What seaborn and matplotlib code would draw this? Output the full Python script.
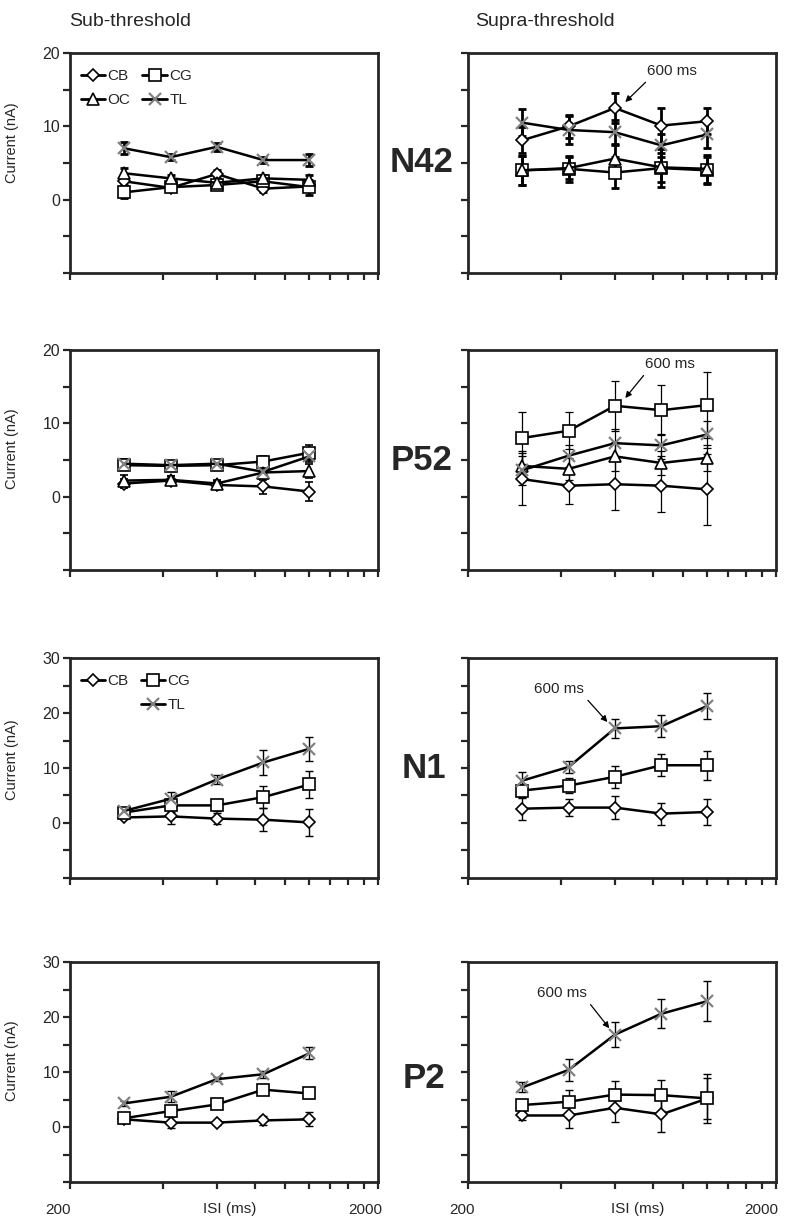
import matplotlib
matplotlib.use("Agg")
import matplotlib.pyplot as plt
import seaborn as sns
from matplotlib.lines import Line2D
from matplotlib.transforms import ScaledTranslation

# ISI values (ms)
isi = [300, 425, 600, 850, 1200]

# N42 sub / supra
n42_sub_cb = [2.5, 1.6, 3.5, 1.5, 1.8]
n42_sub_cb_err = [0.5, 0.4, 0.6, 0.5, 0.6]
n42_sub_cg = [1.0, 1.7, 2.0, 2.5, 1.7]
n42_sub_cg_err = [0.8, 0.4, 0.5, 0.5, 1.0]
n42_sub_oc = [3.6, 2.9, 2.3, 2.9, 2.7]
n42_sub_oc_err = [0.7, 0.4, 0.5, 0.5, 0.6]
n42_sub_tl = [7.0, 5.8, 7.2, 5.4, 5.4]
n42_sub_tl_err = [0.8, 0.4, 0.5, 0.4, 0.8]

n42_sup_cb = [8.1, 10.0, 12.5, 10.1, 10.7]
n42_sup_cb_err = [1.8, 1.6, 2.0, 2.4, 1.8]
n42_sup_cg = [4.0, 4.2, 3.7, 4.3, 4.0]
n42_sup_cg_err = [2.0, 1.8, 2.1, 2.6, 1.8]
n42_sup_oc = [4.0, 4.3, 5.6, 4.4, 4.2]
n42_sup_oc_err = [2.0, 1.5, 1.9, 2.0, 1.9]
n42_sup_tl = [10.5, 9.5, 9.2, 7.4, 8.9]
n42_sup_tl_err = [1.8, 1.9, 1.6, 1.6, 1.9]

# P52 sub / supra
p52_sub_cb = [1.8, 2.2, 1.6, 1.4, 0.7]
p52_sub_cb_err = [0.6, 0.6, 0.5, 1.0, 1.3]
p52_sub_cg = [4.3, 4.2, 4.3, 4.8, 6.0]
p52_sub_cg_err = [0.6, 0.5, 0.5, 0.8, 1.0]
p52_sub_oc = [2.2, 2.3, 1.8, 3.3, 3.5]
p52_sub_oc_err = [0.8, 0.5, 0.5, 1.0, 1.0]
p52_sub_tl = [4.5, 4.3, 4.5, 3.4, 5.5]
p52_sub_tl_err = [0.6, 0.5, 0.4, 0.6, 0.8]

p52_sup_cb = [2.4, 1.5, 1.7, 1.5, 1.0]
p52_sup_cb_err = [3.6, 2.5, 3.5, 3.6, 4.8]
p52_sup_cg = [8.0, 9.0, 12.4, 11.8, 12.5]
p52_sup_cg_err = [3.5, 2.5, 3.4, 3.4, 4.5]
p52_sup_oc = [4.2, 3.8, 5.5, 4.6, 5.3]
p52_sup_oc_err = [2.0, 1.5, 2.0, 1.7, 1.8]
p52_sup_tl = [3.6, 5.6, 7.3, 7.0, 8.5]
p52_sup_tl_err = [2.0, 1.5, 2.0, 1.5, 1.8]

# N1 sub / supra
n1_sub_cb = [1.0, 1.2, 0.8, 0.6, 0.1]
n1_sub_cb_err = [0.3, 1.4, 1.0, 2.1, 2.4]
n1_sub_cg = [1.9, 3.2, 3.2, 4.7, 7.0]
n1_sub_cg_err = [0.6, 1.2, 1.1, 2.0, 2.5]
n1_sub_tl = [2.2, 4.4, 7.9, 11.0, 13.5]
n1_sub_tl_err = [0.5, 1.2, 0.8, 2.2, 2.2]

n1_sup_cb = [2.6, 2.8, 2.8, 1.7, 2.0]
n1_sup_cb_err = [2.0, 1.5, 2.1, 2.0, 2.4]
n1_sup_cg = [5.9, 6.8, 8.4, 10.5, 10.5]
n1_sup_cg_err = [1.2, 1.3, 2.0, 2.0, 2.6]
n1_sup_tl = [7.7, 10.2, 17.2, 17.6, 21.3]
n1_sup_tl_err = [1.6, 1.1, 1.7, 2.0, 2.3]

# P2 sub / supra
p2_sub_cb = [1.4, 0.8, 0.8, 1.2, 1.4]
p2_sub_cb_err = [0.3, 1.0, 0.5, 0.8, 1.3]
p2_sub_cg = [1.6, 2.9, 4.1, 6.8, 6.1]
p2_sub_cg_err = [0.5, 0.5, 0.4, 0.5, 0.9]
p2_sub_tl = [4.3, 5.5, 8.7, 9.6, 13.4]
p2_sub_tl_err = [0.4, 1.0, 0.4, 0.6, 1.1]

p2_sup_cb = [2.1, 2.1, 3.5, 2.3, 5.2]
p2_sup_cb_err = [0.9, 2.3, 2.6, 3.2, 4.4]
p2_sup_cg = [4.0, 4.6, 5.9, 5.8, 5.2]
p2_sup_cg_err = [0.8, 2.1, 2.4, 2.8, 3.8]
p2_sup_tl = [7.2, 10.4, 16.8, 20.6, 22.9]
p2_sup_tl_err = [0.9, 2.0, 2.3, 2.6, 3.7]

row_names = ["N42", "P52", "N1", "P2"]
y_tops = [20, 20, 30, 30]

# estilos de cada serie
STYLE = {
    "CB": dict(marker="D", markersize=6, markerfacecolor="white", markeredgecolor="black", markeredgewidth=1.2),
    "CG": dict(marker="s", markersize=8, markerfacecolor="white", markeredgecolor="black", markeredgewidth=1.2),
    "OC": dict(marker="^", markersize=8, markerfacecolor="white", markeredgecolor="black", markeredgewidth=1.2),
    "TL": dict(marker="x", markersize=8, markerfacecolor="gray", markeredgecolor="#808080", markeredgewidth=1.6),
}

panels = [
    # (row, col, series, errbar lw)
    (0, 0, {"CB": (n42_sub_cb, n42_sub_cb_err), "CG": (n42_sub_cg, n42_sub_cg_err),
            "OC": (n42_sub_oc, n42_sub_oc_err), "TL": (n42_sub_tl, n42_sub_tl_err)}, 2.0),
    (0, 1, {"CB": (n42_sup_cb, n42_sup_cb_err), "CG": (n42_sup_cg, n42_sup_cg_err),
            "OC": (n42_sup_oc, n42_sup_oc_err), "TL": (n42_sup_tl, n42_sup_tl_err)}, 2.0),
    (1, 0, {"CB": (p52_sub_cb, p52_sub_cb_err), "CG": (p52_sub_cg, p52_sub_cg_err),
            "OC": (p52_sub_oc, p52_sub_oc_err), "TL": (p52_sub_tl, p52_sub_tl_err)}, 1.2),
    (1, 1, {"CB": (p52_sup_cb, p52_sup_cb_err), "CG": (p52_sup_cg, p52_sup_cg_err),
            "OC": (p52_sup_oc, p52_sup_oc_err), "TL": (p52_sup_tl, p52_sup_tl_err)}, 0.9),
    (2, 0, {"CB": (n1_sub_cb, n1_sub_cb_err), "CG": (n1_sub_cg, n1_sub_cg_err),
            "TL": (n1_sub_tl, n1_sub_tl_err)}, 1.0),
    (2, 1, {"CB": (n1_sup_cb, n1_sup_cb_err), "CG": (n1_sup_cg, n1_sup_cg_err),
            "TL": (n1_sup_tl, n1_sup_tl_err)}, 1.0),
    (3, 0, {"CB": (p2_sub_cb, p2_sub_cb_err), "CG": (p2_sub_cg, p2_sub_cg_err),
            "TL": (p2_sub_tl, p2_sub_tl_err)}, 1.0),
    (3, 1, {"CB": (p2_sup_cb, p2_sup_cb_err), "CG": (p2_sup_cg, p2_sup_cg_err),
            "TL": (p2_sup_tl, p2_sup_tl_err)}, 1.0),
]

# anotaciones "600 ms": (texto, punta de flecha, origen relativo de la flecha)
ARROWS = {
    0: ((0.664, 0.918), (0.511, 0.777), (0.05, 0.0)),
    1: ((0.655, 0.936), (0.511, 0.782), (0.05, 0.0)),
    2: ((0.296, 0.859), (0.453, 0.709), (1.0, 0.0)),
    3: ((0.306, 0.858), (0.459, 0.699), (1.0, 0.0)),
}

sns.set_style("ticks")
plt.rcParams["font.family"] = ["Liberation Sans", "DejaVu Sans"]

fig = plt.figure(figsize=(7.87, 12.24), dpi=100)

col_left = [0.0889, 0.5947]
col_w = 0.391
row_bottom = [0.7770, 0.5343, 0.2827, 0.0343]
row_h = 0.1797
ylab_y = [0.59, 0.55, 0.54, 0.55]
xticks = list(range(200, 2001, 200))

for r, c, series, elw in panels:
    ax = fig.add_axes([col_left[c], row_bottom[r], col_w, row_h])
    for name, (vals, err) in series.items():
        ax.errorbar(isi, vals, yerr=err, fmt="none", ecolor="black",
                    elinewidth=elw, capsize=3, capthick=elw, zorder=2)
        sns.lineplot(x=isi, y=vals, ax=ax, color="black", lw=1.8, zorder=3,
                     **STYLE[name])

    for sp in ax.spines.values():
        sp.set_linewidth(2.0)
        sp.set_visible(True)

    ax.set_xscale("log")
    ax.set_xlim(200, 2000)
    ax.xaxis.set_minor_locator(matplotlib.ticker.NullLocator())
    ax.set_xticks(xticks)
    ax.tick_params(axis="both", direction="out", length=5, width=1.6, pad=2)
    ax.tick_params(axis="x", pad=10)
    if r == 3:
        ax.set_xticklabels(["200"] + [""] * 8 + ["2000"], fontsize=11)
        labs = ax.get_xticklabels()
        shifts = [-0.12 if c == 0 else -0.06] + [0] * 8 + [-0.12 if c == 0 else -0.14]
        for lab, dx in zip(labs, shifts):
            lab.set_transform(lab.get_transform() + ScaledTranslation(dx, 0, fig.dpi_scale_trans))
        ax.set_xlabel("ISI (ms)", fontsize=11)
        ax.xaxis.set_label_coords(0.52 if c == 0 else 0.55, -0.092)
    else:
        ax.set_xticklabels([""] * len(xticks))

    top = y_tops[r]
    ax.set_ylim(-10, top)
    ax.set_yticks(list(range(-10, top + 1, 5)))
    if c == 0:
        ax.set_yticklabels([str(v) if v >= 0 and v % 10 == 0 else "" for v in range(-10, top + 1, 5)],
                           fontsize=11.5)
        ax.set_ylabel("Current (nA)", fontsize=10.5)
        ax.yaxis.set_label_coords(-0.165, ylab_y[r])
    else:
        ax.set_yticklabels([""] * len(range(-10, top + 1, 5)))

    if c == 1:
        txt, tip, rel = ARROWS[r]
        ax.annotate("600 ms", xy=tip, xycoords="axes fraction", xytext=txt,
                    textcoords="axes fraction", ha="center", va="center", fontsize=11,
                    arrowprops=dict(arrowstyle="-|>", color="black", lw=0.9,
                                    shrinkA=1, shrinkB=0, relpos=rel,
                                    mutation_scale=9))

    # leyendas
    if c == 0 and r in (0, 2):
        def h(name):
            return Line2D([], [], color="black", lw=2.0, **STYLE[name])
        blank = Line2D([], [], color="none")
        if r == 0:
            handles = [h("CB"), h("OC"), h("CG"), h("TL")]
            labels = ["CB", "OC", "CG", "TL"]
        else:
            handles = [h("CB"), blank, h("CG"), h("TL")]
            labels = ["CB", "", "CG", "TL"]
        ax.legend(handles, labels, ncol=2, loc="upper left", bbox_to_anchor=(0.0, 0.975),
                  frameon=False, fontsize=11, handlelength=1.6, handletextpad=0.15,
                  columnspacing=0.8, labelspacing=0.65, borderaxespad=0.3)

# titulos y etiquetas de fila
fig.text(130 / 787, 1 - 22 / 1224, "Sub-threshold", ha="center", va="center", fontsize=14)
fig.text(545 / 787, 1 - 22 / 1224, "Supra-threshold", ha="center", va="center", fontsize=14)
row_lab_pos = [(422, 162), (422, 461), (424, 769), (424, 1078)]
for name, (x, y) in zip(row_names, row_lab_pos):
    fig.text(x / 787, 1 - y / 1224, name, ha="center", va="center", fontsize=25, fontweight="bold")

fig.savefig("out.png", dpi=100)
